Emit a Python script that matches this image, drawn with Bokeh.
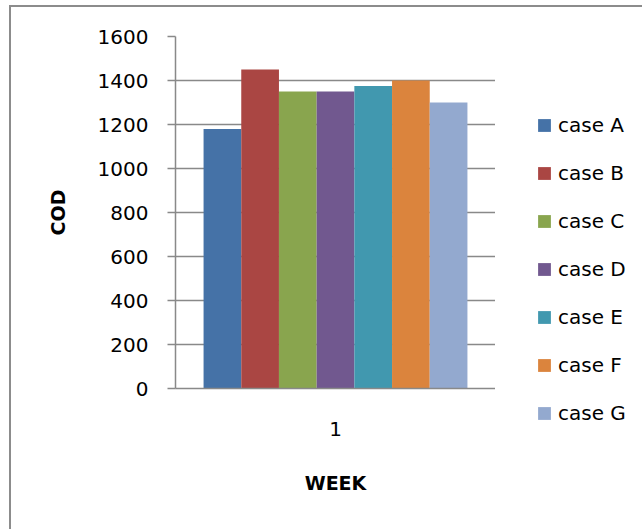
from bokeh.plotting import figure
from bokeh.layouts import row
from bokeh.models import (ColumnDataSource, FactorRange, Range1d, FixedTicker,
                          Legend, LegendItem)
from bokeh.transform import dodge
from bokeh.embed import file_html
from bokeh.resources import INLINE

# COD per case, week 1
weeks = ["1"]
cases = ["case A", "case B", "case C", "case D", "case E", "case F", "case G"]
cod_values = [1180, 1450, 1350, 1350, 1375, 1400, 1300]
colors = ["#4572A7", "#AA4643", "#89A54E", "#71588F", "#4198AF", "#DB843D", "#93A9CF"]
y_ticks = [0, 200, 400, 600, 800, 1000, 1200, 1400, 1600]

FONT = "DejaVu Sans"
GRID = "#898989"
FRAME = "#8c8c8c"

p = figure(width=495, height=529, output_backend="svg", toolbar_location=None,
           x_range=FactorRange(factors=weeks, range_padding=0),
           y_range=Range1d(0, 1600),
           min_border_left=175, min_border_right=0,
           min_border_top=36, min_border_bottom=141)
p.outline_line_color = None
p.background_fill_color = "white"
p.border_fill_color = None
# outer chart box (left and top edges) painted behind the canvas
p.styles = {"background": f"linear-gradient({FRAME},{FRAME}) 9px 5px / 2px 100% no-repeat, "
                          f"linear-gradient({FRAME},{FRAME}) 9px 5px / 100% 2px no-repeat, white"}

bar_w = 0.1178
sources = []
for i, (name, val, col) in enumerate(zip(cases, cod_values, colors)):
    src = ColumnDataSource(dict(week=weeks, cod=[val]))
    sources.append(src)
    p.vbar(x=dodge("week", (i - 3) * bar_w, range=p.x_range), top="cod",
           width=bar_w, source=src, fill_color=col, line_color=None)

# grid
p.xgrid.grid_line_color = None
p.ygrid.grid_line_color = GRID
p.ygrid.grid_line_width = 1.5
p.yaxis.ticker = FixedTicker(ticks=y_ticks)

# y axis
p.yaxis.axis_line_color = GRID
p.yaxis.axis_line_width = 1.5
p.yaxis.major_tick_line_color = GRID
p.yaxis.major_tick_line_width = 1.5
p.yaxis.major_tick_out = 8
p.yaxis.major_tick_in = 0
p.yaxis.minor_tick_line_color = None
p.yaxis.major_label_standoff = 19
p.yaxis.major_label_text_font = FONT
p.yaxis.major_label_text_font_size = "20px"
p.yaxis.major_label_text_color = "black"
p.yaxis.axis_label = "COD"
p.yaxis.axis_label_text_font = FONT
p.yaxis.axis_label_text_font_size = "19px"
p.yaxis.axis_label_text_font_style = "bold"
p.yaxis.axis_label_text_color = "black"
p.yaxis.axis_label_standoff = 26

# x axis
p.xaxis.axis_line_color = GRID
p.xaxis.axis_line_width = 1.5
p.xaxis.major_tick_line_color = None
p.xaxis.major_tick_out = 0
p.xaxis.major_tick_in = 0
p.xaxis.major_label_standoff = 33
p.xaxis.major_label_text_font = FONT
p.xaxis.major_label_text_font_size = "20px"
p.xaxis.major_label_text_color = "black"
p.xaxis.axis_label = "WEEK"
p.xaxis.axis_label_text_font = FONT
p.xaxis.axis_label_text_font_size = "19px"
p.xaxis.axis_label_text_font_style = "bold"
p.xaxis.axis_label_text_color = "black"
p.xaxis.axis_label_standoff = 33

# legend panel: hidden swatch renderers carry the case colours
pl = figure(width=147, height=529, output_backend="svg", toolbar_location=None,
            x_range=FactorRange(factors=weeks), y_range=Range1d(0, 1600),
            x_axis_type=None, y_axis_type=None,
            min_border_left=0, min_border_right=0,
            min_border_top=36, min_border_bottom=141)
pl.outline_line_color = None
pl.background_fill_color = None
pl.border_fill_color = None
pl.xgrid.grid_line_color = None
pl.ygrid.grid_line_color = None
pl.styles = {"background": f"linear-gradient({FRAME},{FRAME}) 0 5px / 100% 2px no-repeat, white"}

items = []
for name, src, col in zip(cases, sources, colors):
    r = pl.vbar(x="week", top="cod", width=bar_w, source=src,
                fill_color=col, line_color=None, visible=False)
    items.append(LegendItem(label=name, renderers=[r]))

legend = Legend(items=items, location=(41, -37), orientation="vertical",
                glyph_width=16, glyph_height=16, label_standoff=6,
                label_height=24, spacing=24, padding=0, margin=0,
                border_line_color=None, background_fill_alpha=0,
                label_text_font=FONT, label_text_font_size="20px",
                label_text_color="black")
pl.add_layout(legend, "left")

layout = row(p, pl)
open("out.html", "w").write(file_html(layout, INLINE))
